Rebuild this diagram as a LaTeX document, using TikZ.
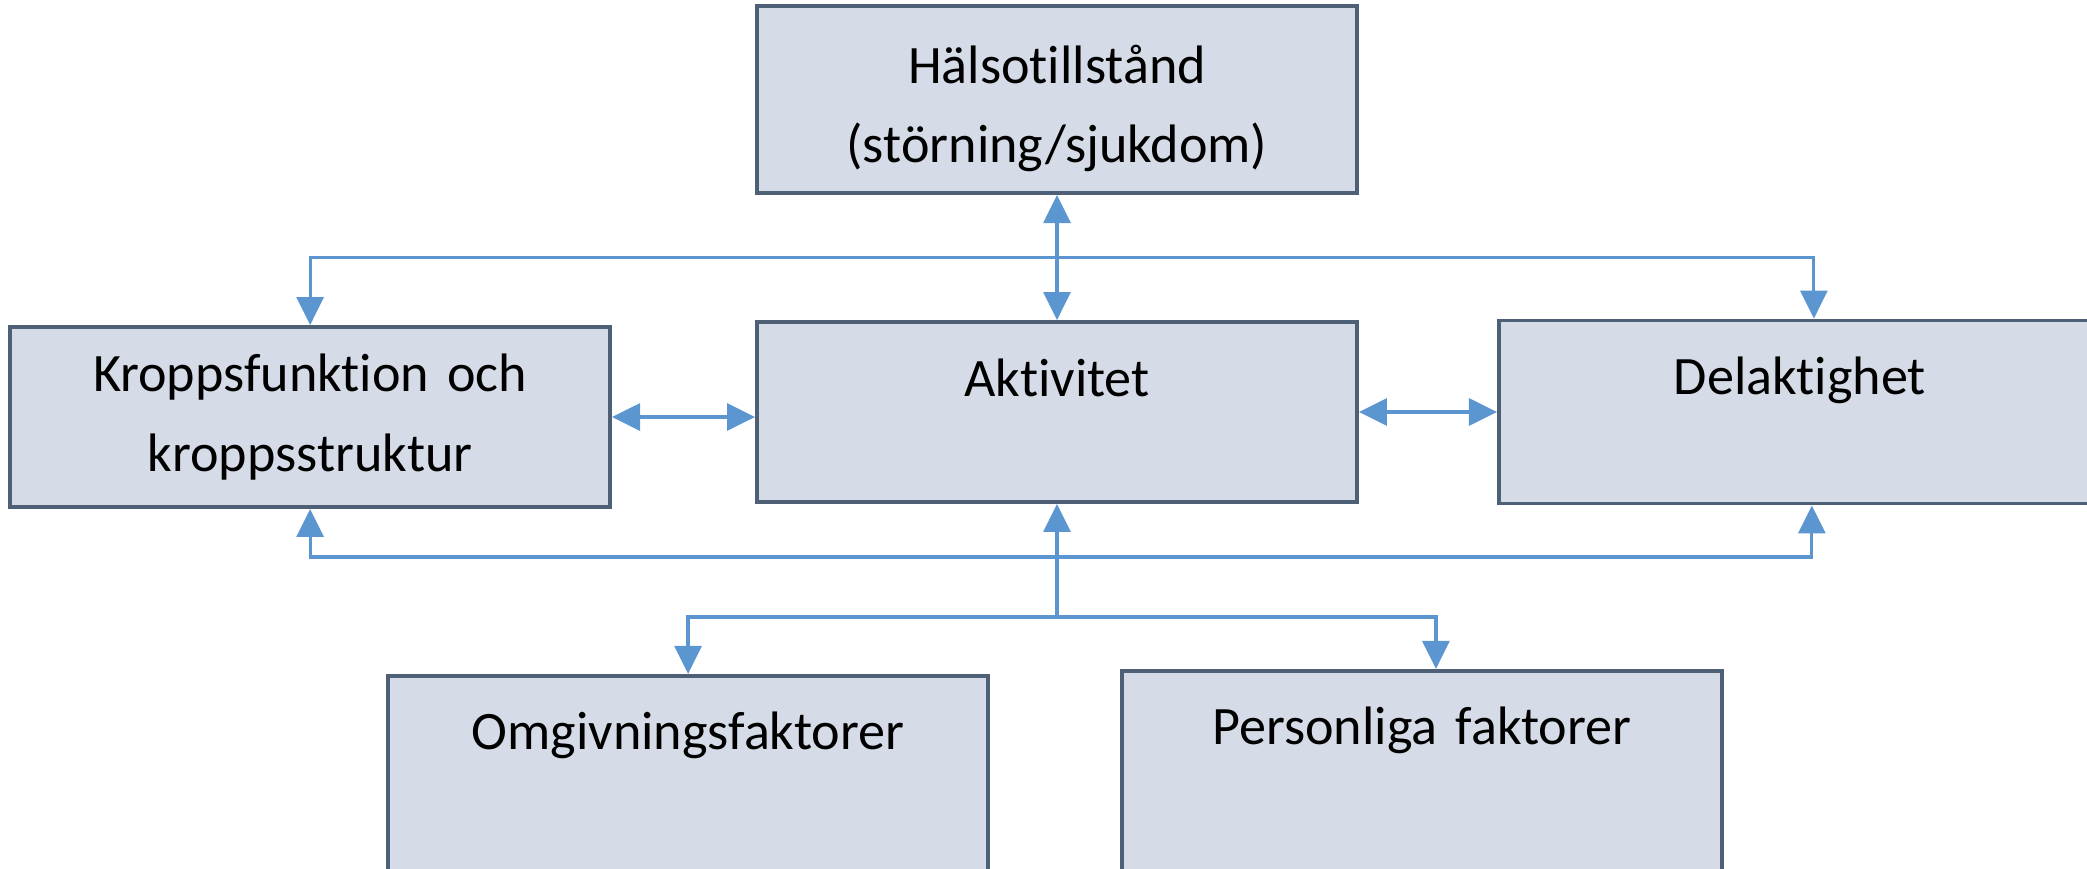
\documentclass[tikz,border=0pt]{standalone}
\usepackage{fontspec}
\setmainfont{Carlito}[Ligatures=NoCommon]
\usepackage{tikz}
\usetikzlibrary{arrows.meta, positioning, calc}
\definecolor{boxfill}{RGB}{214,220,231}
\definecolor{boxline}{RGB}{78,96,118}
\definecolor{linkblue}{RGB}{92,150,208}

\begin{document}
\begin{tikzpicture}[
 >={Triangle[length=0.28cm,width=0.27cm]},
 icfbox/.style={rectangle,draw=boxline,line width=1.1pt,fill=boxfill,
   minimum width=6cm,text width=5.8cm,inner sep=0pt,
   text centered,align=center},
 topbox/.style={icfbox,text height=0.74cm,text depth=#1},
 topbox/.default=1.06cm,
 link/.style={draw=linkblue,line width=0.9pt},
 every node/.style={font=\fontsize{15.4}{22.6}\selectfont}]
 \useasboundingbox (0,0) rectangle (20.87,-8.68);
 \node[topbox=1.06cm] (akt) at (10.57,-4.12) {Aktivitet};
 \node[icfbox,minimum height=1.87cm,above=1.25cm of akt] (halsa)
   {\strut Hälsotillstånd\\(störning/sjukdom)};
 \node[icfbox,minimum height=1.8cm,left=1.43cm of akt,yshift=-0.05cm] (kropp)
   {Kroppsfunktion och\\kroppsstruktur};
 \node[topbox=1.09cm,minimum width=6.02cm,right=1.38cm of akt] (del)
   {Delaktighet};
 \node[topbox=1.5cm,below left=1.7cm and 0.67cm of akt.south] (omg)
   {Omgivningsfaktorer};
 \node[topbox=1.5cm,below right=1.65cm and 0.63cm of akt.south] (pers)
   {Personliga faktorer};
 \coordinate (topbus) at ($(halsa.south)!0.5!(akt.north)$);
 \coordinate[below=0.53cm of akt.south] (botbus);
 \coordinate[below=1.13cm of akt.south] (branch);
 \draw[link,<->] (halsa) -- (akt);
 \draw[link,<->] (kropp.north) |- (topbus) -| ([xshift=0.14cm]del.north);
 \draw[link,<->] (kropp.south) |- (botbus) -| ([xshift=0.12cm]del.south);
 \draw[link,<->] (kropp.east) -- (kropp.east -| akt.west);
 \draw[link,<->] (akt.east) -- (akt.east -| del.west);
 \draw[link,->] (branch) -- (akt.south);
 \draw[link,->] (branch) -| (omg.north);
 \draw[link,->] (branch) -| ([xshift=0.14cm]pers.north);
\end{tikzpicture}
\end{document}
